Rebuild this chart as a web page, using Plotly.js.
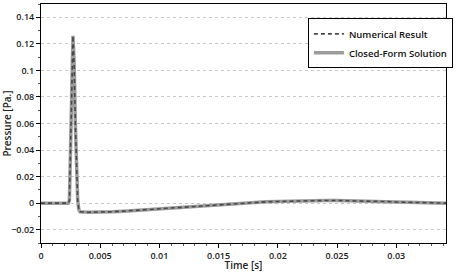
<!DOCTYPE html>
<html>
<head>
<meta charset="utf-8">
<script src="https://cdn.plot.ly/plotly-3.0.1.min.js"></script>
<style>html,body{margin:0;padding:0;background:#fff;}#chart{width:457px;height:272px;}</style>
</head>
<body>
<div id="chart"></div>
<script>
const time = [0, 0.0023, 0.0024, 0.0025, 0.0026, 0.0027, 0.0028, 0.0029, 0.0030, 0.0031, 0.0032, 0.0033,
  0.004, 0.005, 0.006, 0.007, 0.008, 0.009, 0.010, 0.011, 0.012, 0.013, 0.014, 0.015, 0.016, 0.017,
  0.018, 0.019, 0.020, 0.021, 0.022, 0.023, 0.024, 0.025, 0.026, 0.027, 0.028, 0.029, 0.030, 0.031,
  0.032, 0.033, 0.0342];
const closedForm = [0, 0, 0.002, 0.035, 0.085, 0.126, 0.105, 0.06, 0.02, 0.002, -0.005, -0.0065,
  -0.0068, -0.0068, -0.0065, -0.006, -0.0054, -0.0048, -0.0042, -0.0036, -0.0029, -0.0022, -0.0015, -0.0009, -0.0004, 0.0001,
  0.0006, 0.001, 0.0013, 0.0016, 0.0018, 0.0019, 0.002, 0.002, 0.0019, 0.0017, 0.0015, 0.0012, 0.0009, 0.0006,
  0.0004, 0.0002, 0];
const numerical = [0, 0, 0.002, 0.035, 0.085, 0.126, 0.105, 0.06, 0.02, 0.002, -0.005, -0.0065,
  -0.0068, -0.0068, -0.0065, -0.006, -0.0054, -0.0048, -0.0042, -0.0036, -0.0029, -0.0022, -0.0015, -0.0009, -0.0004, 0.0001,
  0.0006, 0.001, 0.0013, 0.0016, 0.0018, 0.0019, 0.002, 0.002, 0.0019, 0.0017, 0.0015, 0.0012, 0.0009, 0.0006,
  0.0004, 0.0002, 0];
const seriesNames = ["Numerical Result", "Closed-Form Solution"];
const xTitle = "Time [s]";
const yTitle = "Pressure [Pa.]";

const font = "Open Sans, Liberation Sans, sans-serif";
const traces = [
  {x: time, y: closedForm, name: seriesNames[1], mode: "lines", legendrank: 2,
   line: {color: "#9c9c9c", width: 3.5}},
  {x: time, y: numerical, name: seriesNames[0], mode: "lines", legendrank: 1,
   line: {color: "#4a4a4a", width: 1.6, dash: "4px,3px"}}
];
const layout = {
  width: 457, height: 272,
  margin: {l: 41, r: 5, t: 4, b: 29},
  paper_bgcolor: "#fff", plot_bgcolor: "#fff",
  font: {family: font, size: 9, color: "#222"},
  showlegend: true,
  legend: {x: 0.659, y: 0.94, xanchor: "left", yanchor: "top",
    bgcolor: "#fff", bordercolor: "#000", borderwidth: 1,
    font: {family: font, size: 9.5, color: "#111", weight: 600},
    tracegroupgap: 0, itemwidth: 30},
  xaxis: {range: [0, 0.0342], dtick: 0.005, tick0: 0, showgrid: false, zeroline: false,
    showline: true, linecolor: "#000", linewidth: 1, mirror: true,
    ticks: "outside", ticklen: 4, tickcolor: "#000",
    minor: {dtick: 0.001, ticks: "outside", ticklen: 2, tickcolor: "#555", showgrid: false},
    tickfont: {family: font, size: 9, color: "#222", weight: 600},
    title: {text: xTitle, font: {family: font, size: 10, color: "#222", weight: 600}, standoff: 1}},
  yaxis: {range: [-0.03, 0.15], dtick: 0.02, tick0: 0, zeroline: false,
    showgrid: true, gridcolor: "#c8c8c8", griddash: "dot", gridwidth: 1,
    showline: true, linecolor: "#000", linewidth: 1, mirror: true,
    ticks: "outside", ticklen: 4, tickcolor: "#000",
    minor: {dtick: 0.01, ticks: "outside", ticklen: 2, tickcolor: "#555", showgrid: false},
    tickfont: {family: font, size: 9, color: "#222", weight: 600},
    title: {text: yTitle, font: {family: font, size: 10, color: "#222", weight: 600}, standoff: 3}}
};
Plotly.newPlot("chart", traces, layout, {displayModeBar: false, staticPlot: true});
</script>
</body>
</html>
